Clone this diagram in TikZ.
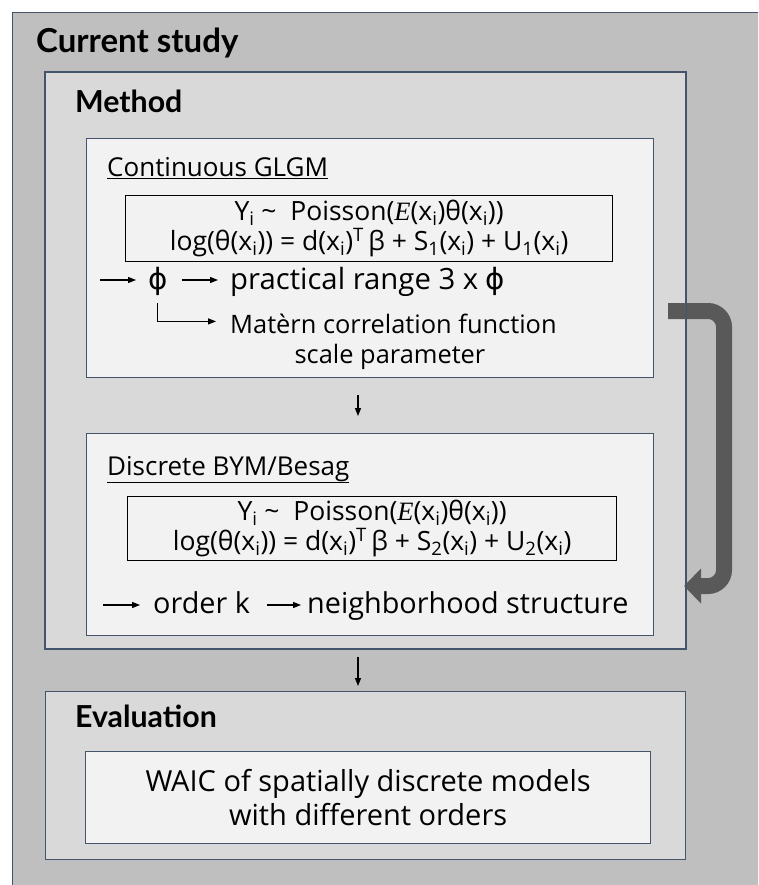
\documentclass[tikz,border=0pt]{standalone}
\usepackage{fontspec}
\setmainfont{Open Sans}
\newfontfamily\titlefont{Lato}
\newfontfamily\phifont{DejaVu Sans}
\newfontfamily\serifE{Liberation Serif}
\usetikzlibrary{arrows.meta}
\definecolor{outerfill}{HTML}{BFBFBF}
\definecolor{midfill}{HTML}{D9D9D9}
\definecolor{innerfill}{HTML}{F2F2F2}
\definecolor{boxline}{HTML}{44546A}
\definecolor{bigarrow}{HTML}{595959}
\newcommand{\gth}{θ}
\newcommand{\gbe}{β}
\newcommand{\gph}{{\phifont ϕ}}
\newcommand{\lsub}[1]{\textsubscript{#1}}
\newcommand{\mE}{{\serifE\itshape E}}
\tikzset{
  outerbox/.style={draw=boxline, line width=1.2pt, fill=outerfill, anchor=north west, inner sep=0pt},
  midbox/.style={draw=boxline, line width=1.2pt, fill=midfill, anchor=north west, inner sep=0pt},
  innerbox/.style={draw=boxline, line width=1.2pt, fill=innerfill, anchor=north west, inner sep=0pt},
  formbox/.style={draw=black, line width=1.2pt, fill=innerfill, anchor=north west, inner sep=0pt, align=center, font=\fontsize{26.5}{30}\selectfont},
  titletext/.style={anchor=base west, inner sep=0pt, font=\titlefont\fontsize{30.3}{34}\selectfont\bfseries},
  subtitle/.style={anchor=base west, inner sep=0pt, font=\fontsize{26}{30}\selectfont},
  rowtext/.style={anchor=base west, inner sep=0pt, text height=0.72em, text depth=0.2em, font=\fontsize{29.3}{32}\selectfont},
  rowtwo/.style={anchor=base west, inner sep=0pt, text height=0.72em, text depth=0.2em, font=\fontsize{28.8}{32}\selectfont},
  mattext/.style={anchor=base west, inner sep=0pt, text height=0.72em, text depth=0.2em, font=\fontsize{25.4}{30}\selectfont},
  smallarr/.style={line width=1.2pt, -{Triangle[length=8pt,width=6pt]}},
}
\begin{document}
\begin{tikzpicture}[x=1pt,y=-1pt]
\useasboundingbox (0,0) rectangle (758,885);
\clip (0,0) rectangle (758,885);
\fill[white] (0,0) rectangle (758,885);
% outer
\node[outerbox, minimum width=760pt, minimum height=890pt] (outer) at (12,12) {};
\node[titletext, font=\titlefont\fontsize{33}{36}\selectfont\bfseries] (cs) at (36,53) {Current study};
% method
\node[midbox, minimum width=640pt, minimum height=576pt] (method) at (45,72) {};
\node[titletext] (meth) at (75,113) {Method};
% continuous
\node[innerbox, minimum width=567pt, minimum height=239pt] (cont) at (86,138) {};
\node[subtitle] (conttitle) at (107,177) {\underline{Continuous GLGM}};
\node[formbox, minimum width=487pt, minimum height=66pt] (f1) at (125,195)
  {Y\lsub{i} \textasciitilde\ \ Poisson(\mE(x\lsub{i})\gth(x\lsub{i}))\\
   log(\gth(x\lsub{i})) = d(x\lsub{i})\textsuperscript{T}\,\gbe{} + S\lsub{1}(x\lsub{i}) + U\lsub{1}(x\lsub{i})};
\node[rowtext] (phi) at (148,289) {\gph};
\node[rowtext] (pr) at (230,289) {practical range 3 x \gph};
\node[mattext] (mat1) at (230,333) {Matèrn correlation function};
\node[mattext, anchor=base] (mat2) at (390,363) {scale parameter};
\coordinate (r1s) at (100,280);
% down arrow 1
\coordinate (d1s) at (358,395);
\coordinate (d1e) at (358,416);
\draw[smallarr] (d1s) -- (d1e);
% discrete
\node[innerbox, minimum width=567pt, minimum height=202pt] (disc) at (86,433) {};
\node[subtitle] (disctitle) at (107,475) {\underline{Discrete BYM/Besag}};
\node[formbox, minimum width=489pt, minimum height=64pt] (f2) at (127,496)
  {Y\lsub{i} \textasciitilde\ \ Poisson(\mE(x\lsub{i})\gth(x\lsub{i}))\\
   log(\gth(x\lsub{i})) = d(x\lsub{i})\textsuperscript{T}\,\gbe{} + S\lsub{2}(x\lsub{i}) + U\lsub{2}(x\lsub{i})};
\node[rowtwo] (ok) at (153,613) {order k};
\node[rowtwo] (nb) at (307,613) {neighborhood structure};
\coordinate (r2s) at (103,605);
% down arrow 2
\coordinate (d2s) at (358,657);
\coordinate (d2e) at (358,686);
\draw[smallarr] (d2s) -- (d2e);
% evaluation
\node[midbox, minimum width=640pt, minimum height=168pt] (eval) at (45,691) {};
\node[titletext] (evt) at (75,727) {Evaluation};
\node[innerbox, minimum width=565pt, minimum height=92pt, align=center, font=\fontsize{29}{34}\selectfont] (waic) at (85,751)
  {WAIC of spatially discrete models\\with different orders};
% row arrows
\draw[smallarr, shorten >=12pt] (r1s) -- (r1s -| phi.west);
\draw[smallarr] ([xshift=14pt]phi.east |- r1s) -- ([xshift=-12pt]pr.west |- r1s);
\draw[smallarr, shorten <=12pt] (phi.south) |- ([xshift=-14pt, yshift=9pt]mat1.west);
\draw[smallarr, shorten >=13pt] (r2s) -- (r2s -| ok.west);
\draw[smallarr] ([xshift=17pt]ok.east |- r2s) -- ([xshift=-6pt]nb.west |- r2s);
% big arrow
\coordinate (ba) at (668,311);
\coordinate (bb) at (684,586);
\draw[bigarrow, line width=16pt, rounded corners=16pt, -{Triangle[length=17pt,width=34pt]}]
  (ba) -- (724,311) -- (724,586) -- (bb);
\draw[boxline, line width=1.2pt] (method.north west) rectangle (method.south east);
\end{tikzpicture}
\end{document}
